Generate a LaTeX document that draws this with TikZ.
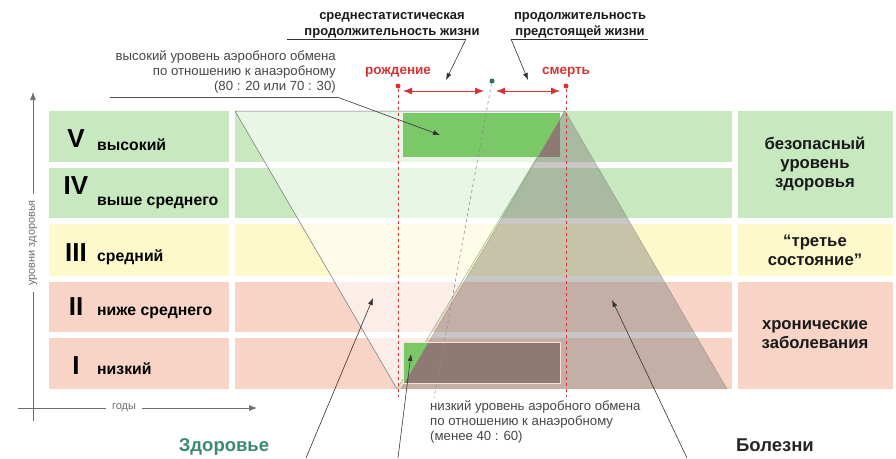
\documentclass[tikz,border=0pt]{standalone}
\usepackage{fontspec}
\setmainfont{Liberation Sans}
\usetikzlibrary{positioning, arrows.meta}

\definecolor{rowgreen}{RGB}{200,232,192}
\definecolor{rowyellow}{RGB}{254,249,202}
\definecolor{rowpink}{RGB}{247,212,197}
\definecolor{bargreen}{RGB}{122,200,104}
\definecolor{barbrown}{RGB}{142,122,114}
\definecolor{pyrgray}{RGB}{135,132,128}
\definecolor{lifered}{RGB}{214,52,52}
\definecolor{healthteal}{RGB}{58,138,108}
\definecolor{txtgray}{RGB}{70,70,70}
\definecolor{axisgray}{RGB}{110,110,110}

\begin{document}
\begin{tikzpicture}[x=1pt, y=-1pt,
    txt/.style={inner sep=0pt, text=txtgray, font=\fontsize{13.2}{15}\selectfont},
    toplbl/.style={inner sep=0pt, text=black!90, font=\bfseries\fontsize{13}{16}\selectfont},
    numeral/.style={inner sep=0pt, anchor=base, font=\bfseries\fontsize{26}{26}\selectfont},
    levelword/.style={inner sep=0pt, anchor=base west, font=\bfseries\fontsize{15.8}{17}\selectfont},
    zone/.style={inner sep=0pt, align=center, text=black!90, font=\bfseries\fontsize{16.7}{19}\selectfont},
    lifept/.style={circle, fill=lifered, inner sep=0pt, minimum size=5pt},
    pointer/.style={-{Latex[length=7pt,width=5pt]}, draw=black!80, line width=.6pt},
    span/.style={{Latex[length=9pt,width=7pt]}-{Latex[length=9pt,width=7pt]}, draw=lifered, line width=.9pt},
    lifeline/.style={draw=lifered, dashed, line width=.6pt}]

\useasboundingbox (0,0) rectangle (896,458);

% health levels
\foreach \t/\b/\c/\n/\nb/\w/\wb in {
    111/162/rowgreen/V/147/высокий/150,
    168/218/rowgreen/IV/194/выше среднего/205,
    224/276/rowyellow/III/261/средний/261,
    282/332/rowpink/II/315/ниже среднего/315,
    338/389/rowpink/I/374/низкий/374}{
  \fill[\c] (49,\t) rectangle (229,\b);
  \fill[\c] (235,\t) rectangle (732,\b);
  \node[numeral] (num\n) at (76,\nb) {\n};
  \node[levelword] (word\n) at (97,\wb) {\w};
}
\fill[rowgreen] (738,111) rectangle (893,218);
\fill[rowyellow] (738,224) rectangle (893,276);
\fill[rowpink] (738,282) rectangle (893,389);
\node[zone] (safe) at (815,164) {безопасный\\уровень\\здоровья};
\node[zone] (third) at (815,250) {“третье\\состояние”};
\node[zone] (chronic) at (815,335) {хронические\\заболевания};

% health and illness
\coordinate (htl) at (235,111);
\coordinate (htr) at (565,111);
\coordinate (hbot) at (397,389);
\coordinate (apex) at (565,111);
\coordinate (pleft) at (401,389);
\coordinate (pright) at (727,389);
\fill[white, opacity=.6] (htl) -- (htr) -- (hbot) -- cycle;
\draw[black!55, line width=.5pt] (hbot) -- (htl) -- (htr);
\draw[green!45!black!50, line width=.5pt] (htr) -- (hbot);
\fill[pyrgray, opacity=.46] (apex) -- (pleft) -- (pright) -- cycle;
\draw[pyrgray!80!black, opacity=.5, line width=.4pt] (pleft) -- (apex) -- (pright);

% aerobic bars
\fill[bargreen] (403,113) rectangle (560,157);
\fill[bargreen] (403,342) rectangle (560,383);
\begin{scope}
  \clip (apex) -- (pleft) -- (pright) -- cycle;
  \fill[barbrown] (403,113) rectangle (560,157);
  \fill[barbrown] (403,342) rectangle (560,383);
\end{scope}
\draw[rowpink!70!white, line width=.6pt] (403,342) rectangle (560,383);

% life span
\node[lifept] (birth) at (398,86) {};
\node[lifept] (death) at (566,86) {};
\node[circle, fill=healthteal!80!black, inner sep=0pt, minimum size=5pt] (now) at (492,81) {};
\coordinate (nowend) at (434,398);
\draw[black!45, dashed, line width=.6pt] (now) -- (nowend);
\coordinate (birthend) at (398,397);
\coordinate (deathend) at (566,397);
\draw[lifeline] (birth) -- (birthend);
\draw[lifeline] (death) -- (deathend);
\node[inner sep=0pt, text=lifered, font=\bfseries\fontsize{13.5}{15}\selectfont] (birthlbl) at (398,72) {рождение};
\node[inner sep=0pt, text=lifered, font=\bfseries\fontsize{13.5}{15}\selectfont] (deathlbl) at (566,72) {смерть};
\coordinate (s1a) at (403,91);
\coordinate (s1b) at (484,91);
\coordinate (s2a) at (496,91);
\coordinate (s2b) at (560,91);
\draw[span] (s1a) -- (s1b);
\draw[span] (s2a) -- (s2b);

% top captions
\node[toplbl, align=center] (avglife) at (392,25) {среднестатистическая\\продолжительность жизни};
\node[toplbl, align=center] (restlife) at (580,25) {продолжительность\\предстоящей жизни};
\coordinate (u1a) at (287,39);
\coordinate (u1b) at (466,39);
\coordinate (u2a) at (511,39);
\coordinate (u2b) at (648,39);
\coordinate (t1) at (446,80);
\coordinate (t2) at (528,80);
\draw[black!80, line width=.6pt] (u1a) -- (u1b);
\draw[black!80, line width=.6pt] (u2a) -- (u2b);
\draw[pointer] (u1b) -- (t1);
\draw[pointer] (u2a) -- (t2);

% aerobic captions
\node[txt, align=right, anchor=north east] (highaer) at (336,51) {высокий уровень аэробного обмена\\по отношению к анаэробному\\(80 : 20 или 70 : 30)};
\coordinate (hu1) at (110,97);
\coordinate (hu2) at (337,97);
\coordinate (hitip) at (440,135);
\draw[black!70, line width=.6pt] (hu1) -- (hu2);
\draw[pointer] (hu2) -- (hitip);
\node[txt, align=left, anchor=north west] (lowaer) at (430,400) {низкий уровень аэробного обмена\\по отношению к анаэробному\\(менее 40 : 60)};
\coordinate (lostart) at (398,458);
\coordinate (lotip) at (411,354);
\draw[pointer] (lostart) -- (lotip);

% bottom captions
\node[inner sep=0pt, text=healthteal, font=\bfseries\fontsize{18.5}{20}\selectfont] (health) at (224,447) {Здоровье};
\node[inner sep=0pt, text=black!85, font=\bfseries\fontsize{18.5}{20}\selectfont] (illness) at (775,445) {Болезни};
\coordinate (hstart) at (306,458);
\coordinate (htip) at (373,298);
\coordinate (istart) at (687,458);
\coordinate (itip) at (612,300);
\draw[pointer] (hstart) -- (htip);
\draw[pointer] (istart) -- (itip);

% axes
\coordinate (ybot) at (33,421);
\coordinate (ytop) at (33,92);
\coordinate (xleft) at (18,408);
\coordinate (xright) at (257,408);
\draw[axisgray, line width=.7pt, -{Latex[length=8pt,width=6pt]}] (ybot) -- (ytop);
\draw[axisgray, line width=.7pt, -{Latex[length=8pt,width=6pt]}] (xleft) -- (xright);
\node[fill=white, inner xsep=6pt, inner ysep=2pt, text=axisgray, rotate=90, font=\fontsize{11}{13}\selectfont] (ylbl) at (33,243) {уровни здоровья};
\node[fill=white, inner xsep=6pt, inner ysep=2pt, text=axisgray, font=\fontsize{11}{13}\selectfont] (xlbl) at (124,408) {годы};
\end{tikzpicture}
\end{document}
